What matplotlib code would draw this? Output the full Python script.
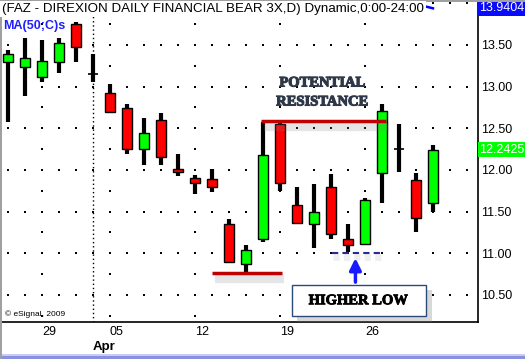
import matplotlib
matplotlib.use("Agg")
import matplotlib.pyplot as plt
import matplotlib.patheffects as pe
from matplotlib.patches import Rectangle
import numpy as np

# FAZ daily candles, 26 sessions (late Mar - end Apr 2009)
opens = [13.29, 13.23, 13.12, 13.30, 13.75, 13.15, 12.92, 12.74, 12.25, 12.60,
         12.01, 11.90, 11.89, 11.35, 10.87, 11.17, 12.55, 11.58, 11.35, 11.79,
         11.17, 11.11, 11.96, 12.25, 11.88, 11.60]
highs = [13.44, 13.58, 13.56, 13.58, 13.78, 13.39, 13.03, 12.79, 12.62, 12.68,
         12.19, 11.94, 12.01, 11.41, 11.10, 12.58, 12.56, 11.79, 11.83, 11.95,
         11.35, 11.66, 12.79, 12.55, 11.96, 12.30]
lows = [12.58, 12.89, 13.06, 13.16, 13.29, 13.05, 12.70, 12.19, 12.06, 12.06,
        11.93, 11.71, 11.73, 10.89, 10.78, 11.13, 11.75, 11.36, 11.06, 11.17,
        11.02, 11.11, 11.60, 11.98, 11.25, 11.50]
closes = [13.39, 13.34, 13.31, 13.52, 13.48, 13.15, 12.70, 12.25, 12.44, 12.16,
          11.98, 11.84, 11.80, 10.90, 11.04, 12.18, 11.84, 11.36, 11.49, 11.23,
          11.10, 11.64, 12.71, 12.25, 11.42, 12.2425]

# 50-day MA, only its tail dips into view at the top
ma_idx = [15, 16, 17, 18, 19, 20, 21, 22, 23, 24, 25]
ma_vals = [14.07, 14.07, 14.06, 14.06, 14.05, 14.05, 14.04, 14.04, 14.03, 13.99, 13.9404]

week_idx = [2, 6, 11, 16, 21]
week_labels = ["29", "05", "12", "19", "26"]
month_idx = 5
price_ticks = [10.5, 11.0, 11.5, 12.0, 12.5, 13.0, 13.5]

resistance = 12.588
support = 10.76
higher_low = 11.0

W, H = 525, 359
fig = plt.figure(figsize=(W / 100, H / 100), dpi=100)
ax = fig.add_axes([2 / W, 37 / H, 476 / W, 320 / H])
ax.set_xlim(-0.35, 27.65)
ax.set_ylim(10.175, 14.016)

sans = "Liberation Sans"
serif = "Liberation Serif"

# dotted grid: every bar on the half-dollar rows, weekly columns on quarter rows
n_cols = np.arange(0, 28)
major_rows = np.arange(10.5, 14.01, 0.5)
minor_rows = np.arange(10.25, 14.01, 0.25)
gx, gy = np.meshgrid(n_cols, major_rows)
ax.scatter(gx.ravel(), gy.ravel(), s=0.6, c="black", marker="s", linewidths=0, zorder=1)
wx, wy = np.meshgrid(week_idx, minor_rows)
ax.scatter(wx.ravel(), wy.ravel(), s=0.6, c="black", marker="s", linewidths=0, zorder=1)
ax.axvline(month_idx, color="black", lw=1, ls=(0, (1, 2)), zorder=1)

# candles
idx = np.arange(len(opens))
ax.vlines(idx, lows, highs, color="black", lw=3, zorder=2)
for i, (o, c) in enumerate(zip(opens, closes)):
    if abs(c - o) < 0.005:
        ax.hlines(o, i - 0.32, i + 0.32, color="black", lw=1.2, zorder=3)
        continue
    col = "#00ff00" if c > o else "#ff0000"
    ax.bar(i, abs(c - o), bottom=min(o, c), width=0.6, color=col,
           edgecolor="black", linewidth=1, zorder=3)

ax.plot(ma_idx, ma_vals, color="#0000ff", lw=1.8, zorder=4)

# annotations
shadow = [pe.SimpleLineShadow(offset=(2, -4), shadow_color="gray", alpha=0.2, linewidth=6),
          pe.Normal()]
ax.plot([14.9, 22.25], [resistance] * 2, color="#c00000", lw=2.5, zorder=5,
        path_effects=shadow, solid_capstyle="butt")
ax.plot([12.0, 16.1], [support] * 2, color="#c00000", lw=2.5, zorder=5,
        path_effects=shadow, solid_capstyle="butt")
ax.plot([19.06, 22.06], [higher_low] * 2, color="#2a2a90", lw=1.5, ls=(0, (3, 2)),
        zorder=5, path_effects=[pe.SimpleLineShadow(offset=(1, -3), shadow_color="gray",
                                                    alpha=0.12, linewidth=5), pe.Normal()])
ax.annotate("", xy=(20.44, 10.975), xytext=(20.44, 10.62),
            arrowprops=dict(arrowstyle="-|>,head_width=0.35,head_length=0.7",
                            color="#1a1aff", lw=2.5), zorder=6)

box = Rectangle((16.7, 10.247), 7.9, 0.373, facecolor="white", edgecolor="#2a4a7a",
                lw=1, zorder=6,
                path_effects=[pe.SimplePatchShadow(offset=(4, -4), shadow_rgbFace="gray",
                                                   alpha=0.3), pe.Normal()])
ax.add_patch(box)
ax.text(20.62, 10.43, "HIGHER LOW", family=serif, weight="bold", fontsize=10.5,
        ha="center", va="center", color="black", zorder=7,
        path_effects=[pe.withStroke(linewidth=0.6, foreground="black")])
for txt, y in [("POTENTIAL", 13.044), ("RESISTANCE", 12.816)]:
    ax.text(18.5, y, txt, family=serif, weight="bold", fontsize=10.5, ha="center",
            va="center", color="#2f3848", zorder=7,
            path_effects=[pe.withStroke(linewidth=0.8, foreground="#2f3848")])

# axes styling
for s in ["left", "top"]:
    ax.spines[s].set_visible(False)
for s in ["right", "bottom"]:
    ax.spines[s].set_linewidth(1.2)
ax.yaxis.tick_right()
ax.set_yticks(price_ticks)
ax.set_yticklabels([f"{p:.2f}" for p in price_ticks], fontsize=9, family=sans)
ax.tick_params(axis="y", length=0, pad=2)
ax.set_xticks(week_idx)
ax.set_xticklabels(week_labels, fontsize=9, family=sans, ha="left")
ax.tick_params(axis="x", length=0, pad=3)
ax.text(month_idx, -0.06, "Apr", transform=ax.get_xaxis_transform(), fontsize=9.5,
        family=sans, weight="bold", ha="left", va="top")

# price flags on the right axis
for val, fc in [(13.9404, "#0a0aff"), (12.2425, "#00ff00")]:
    ax.text(1.003, val, f"{val:.4f}", transform=ax.get_yaxis_transform(), fontsize=9,
            family=sans, color="white", ha="left", va="center", zorder=8,
            bbox=dict(boxstyle="square,pad=0.12", fc=fc, ec="none"), clip_on=False)

fig.text(2 / W, 1 - 3 / H, "(FAZ - DIREXION DAILY FINANCIAL BEAR 3X,D) Dynamic,0:00-24:00",
         fontsize=9.6, family=sans, ha="left", va="top",
         bbox=dict(boxstyle="square,pad=0.15", fc="white", ec="none"))
fig.text(3 / W, 1 - 20 / H, "MA(50;C)s", fontsize=9, family=sans, weight="bold",
         color="#2020ff", ha="left", va="top")
fig.text(5 / W, 1 - 314 / H, "\u00a9 eSignal, 2009", fontsize=6, family=sans,
         ha="left", va="center")

# window chrome: grey frame line and lavender bar at the bottom
fig.patches.append(Rectangle((0, 0), 1, 3 / H, transform=fig.transFigure,
                             fc="#8a90e0", ec="none"))
fig.patches.append(Rectangle((0, 3 / H), 1, 2 / H, transform=fig.transFigure,
                             fc="#c9ccf2", ec="none"))
fig.patches.append(Rectangle((0, 0), 1.5 / W, 1, transform=fig.transFigure,
                             fc="#a0a0a0", ec="none"))
fig.patches.append(Rectangle((0, 1 - 1.5 / H), 1, 1.5 / H, transform=fig.transFigure,
                             fc="#a0a0a0", ec="none"))

fig.savefig("out.png", dpi=100)
